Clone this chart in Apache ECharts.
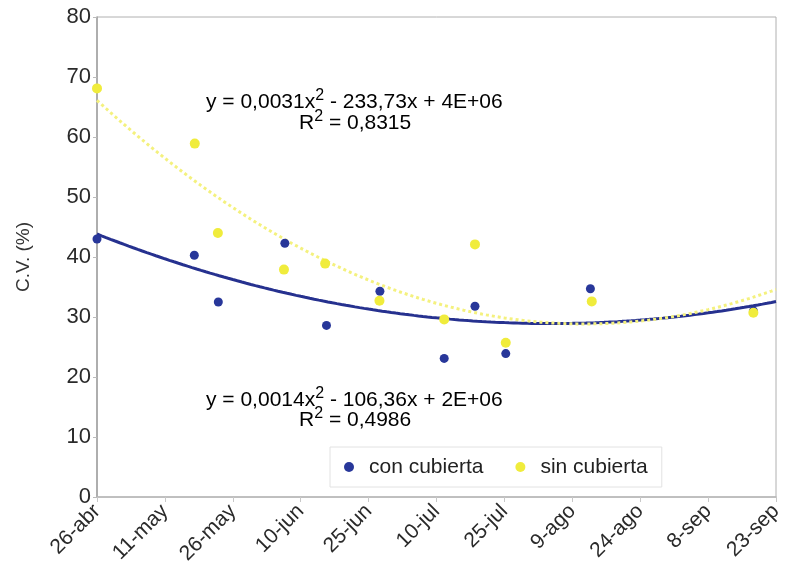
<!DOCTYPE html>
<html><head><meta charset="utf-8">
<script src="https://cdn.jsdelivr.net/npm/echarts@6/dist/echarts.min.js"></script>
<style>html,body{margin:0;padding:0;background:#fff}#c{width:792px;height:573px}</style>
</head><body><div id="c"></div>
<script>
// x values are days counted from 26-abr
const tickLabels = ['26-abr','11-may','26-may','10-jun','25-jun','10-jul','25-jul','9-ago','24-ago','8-sep','23-sep'];
const dayCon = [0, 21.5, 26.8, 41.5, 50.7, 62.5, 76.7, 83.5, 90.3, 109, 145];
const valCon = [43.0, 40.3, 32.5, 42.3, 28.6, 34.3, 23.1, 31.8, 23.9, 34.7, 31.0];
const daySin = [0, 21.6, 26.7, 41.3, 50.4, 62.4, 76.7, 83.5, 90.3, 109.3, 145];
const valSin = [68.1, 58.9, 44.0, 37.9, 38.9, 32.7, 29.6, 42.1, 25.7, 32.6, 30.7];
const seriesNames = ['con cubierta', 'sin cubierta'];
const eqSin = ['y = 0,0031x', '2', ' - 233,73x + 4E+06'];
const r2Sin = '0,8315';
const eqCon = ['y = 0,0014x', '2', ' - 106,36x + 2E+06'];
const r2Con = '0,4986';

function polyfit2(xs, ys) {
  let S = [0,0,0,0,0], T = [0,0,0];
  for (let i = 0; i < xs.length; i++) {
    let p = 1;
    for (let k = 0; k < 5; k++) { S[k] += p; if (k < 3) T[k] += p * ys[i]; p *= xs[i]; }
  }
  const M = [[S[0],S[1],S[2]],[S[1],S[2],S[3]],[S[2],S[3],S[4]]];
  const det = m => m[0][0]*(m[1][1]*m[2][2]-m[1][2]*m[2][1]) - m[0][1]*(m[1][0]*m[2][2]-m[1][2]*m[2][0]) + m[0][2]*(m[1][0]*m[2][1]-m[1][1]*m[2][0]);
  const D = det(M);
  const res = [];
  for (let c = 0; c < 3; c++) {
    const Mc = M.map((row, r) => row.map((v, j) => j === c ? T[r] : v));
    res.push(det(Mc) / D);
  }
  return res; // a0, a1, a2
}
function trend(xs, ys) {
  const [a0, a1, a2] = polyfit2(xs, ys);
  const out = [];
  for (let d = 0; d <= 150; d += 1) out.push([d, a0 + a1 * d + a2 * d * d]);
  return out;
}
const pairs = (xs, ys) => xs.map((x, i) => [x, ys[i]]);

const blue = '#28379a', yellow = '#f0ec3c';
const FONT = 'Liberation Sans';
const rich = {
  n: { fontSize: 21, fontFamily: FONT, color: '#222' },
  s: { fontSize: 16, fontFamily: FONT, color: '#222', padding: [0, 0, 12, 0] }
};
function eqText(x, y, parts) {
  return { type: 'text', x: x, y: y, z: 100, style: {
    text: '{n|' + parts[0] + '}{s|' + parts[1] + '}{n|' + parts[2] + '}',
    rich: rich, verticalAlign: 'middle' } };
}

const chart = echarts.init(document.getElementById('c'), null, { renderer: 'canvas' });
chart.setOption({
  backgroundColor: '#fff',
  animation: false,
  grid: { left: 97, right: 16, top: 17, bottom: 76, show: true, borderColor: '#b0b0b0', borderWidth: 1, backgroundColor: 'transparent' },
  xAxis: {
    type: 'value', min: 0, max: 150, interval: 15,
    axisLine: { show: true, onZero: false, lineStyle: { color: '#b8b8b8', width: 1.5 } },
    axisTick: { show: true, length: 5, lineStyle: { color: '#c8c8c8' } },
    splitLine: { show: false },
    axisLabel: { rotate: 45, margin: 11, fontSize: 21, fontFamily: FONT, color: '#2a2a2a',
      formatter: v => tickLabels[Math.round(v / 15)] }
  },
  yAxis: {
    type: 'value', min: 0, max: 80, interval: 10,
    name: 'C.V. (%)', nameLocation: 'middle', nameGap: 64, nameRotate: 90,
    nameTextStyle: { fontSize: 19, fontFamily: FONT, color: '#333', padding: [0, 0, 0, 0] },
    axisLine: { show: true, lineStyle: { color: '#a0a0a0', width: 1.5 } },
    axisTick: { show: true, length: 4, lineStyle: { color: '#bbb' } },
    splitLine: { show: false },
    axisLabel: { fontSize: 22, fontFamily: FONT, color: '#2a2a2a', margin: 6 }
  },
  legend: {
    left: 330, top: 447, itemGap: 32, padding: [8, 14, 8, 14],
    borderColor: '#e2e2e2', borderWidth: 1, backgroundColor: '#fff',
    itemWidth: 10, itemHeight: 10, icon: 'circle',
    textStyle: { fontSize: 21, fontFamily: FONT, color: '#222', padding: [0, 0, 0, 10], lineHeight: 24 },
    data: seriesNames
  },
  series: [
    { name: 'trend ' + seriesNames[0], type: 'line', data: trend(dayCon, valCon), showSymbol: false,
      lineStyle: { color: '#26318f', width: 3 }, z: 2, silent: true },
    { name: 'trend ' + seriesNames[1], type: 'line', data: trend(daySin, valSin), showSymbol: false,
      lineStyle: { color: '#f4f17e', width: 3, type: [3, 3] }, z: 3, silent: true },
    { name: seriesNames[0], type: 'scatter', data: pairs(dayCon, valCon), symbolSize: 9,
      itemStyle: { color: blue, opacity: 1 }, z: 4 },
    { name: seriesNames[1], type: 'scatter', data: pairs(daySin, valSin), symbolSize: 10,
      itemStyle: { color: yellow, opacity: 1 }, z: 5 }
  ],
  graphic: [
    eqText(206, 102, eqSin),
    eqText(299, 123, ['R', '2', ' = ' + r2Sin]),
    eqText(206, 400, eqCon),
    eqText(299, 420, ['R', '2', ' = ' + r2Con])
  ]
});
</script></body></html>
